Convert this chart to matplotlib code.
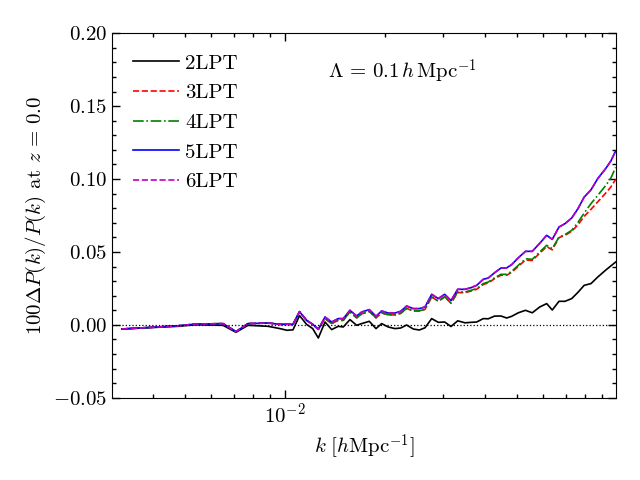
import numpy as np
import matplotlib
matplotlib.use("Agg")
import matplotlib.pyplot as plt
from matplotlib.ticker import MultipleLocator, LogLocator

plt.rcParams['font.family'] = 'serif'
plt.rcParams['font.serif'] = ['cmr10']
plt.rcParams['mathtext.fontset'] = 'cm'
plt.rcParams['axes.formatter.use_mathtext'] = True
plt.rcParams['font.size'] = 15

# k bins [h/Mpc]
k = [0.003229, 0.004762, 0.005357, 0.006504, 0.007118, 0.007737, 0.008889, 0.009659,
     0.01014, 0.01057, 0.01106, 0.01161, 0.01212, 0.01260, 0.01320, 0.01382,
     0.01447, 0.01498, 0.01569, 0.01644, 0.01702, 0.01794, 0.01880, 0.01955,
     0.02047, 0.02144, 0.02231, 0.02325, 0.02434, 0.02538, 0.02640, 0.02766,
     0.02895, 0.03027, 0.03162, 0.03313, 0.03485, 0.03640, 0.03779, 0.03956,
     0.04095, 0.04276, 0.04473, 0.04653, 0.04817, 0.05043, 0.05301, 0.05557,
     0.05850, 0.06141, 0.06384, 0.06688, 0.06972, 0.07303, 0.07629, 0.07965,
     0.08349, 0.08752, 0.09232, 0.09591, 0.09910]

# 100 * Delta P / P for each LPT order
lpt2 = [-0.00288, -0.00103, 0.0, -0.00034, -0.00514, -0.00034, -0.00103, -0.00261,
        -0.00377, -0.00343, 0.00631, 0.00034, -0.00261, -0.00905, 0.00192, -0.00329,
        -0.00103, -0.00151, 0.00357, -0.00034, 0.00082, 0.00240, -0.00261, 0.00082,
        -0.00151, -0.00261, -0.00219, -0.00014, -0.00288, -0.00357, -0.00206, 0.00425,
        0.00171, 0.00192, -0.00117, 0.00274, 0.00137, 0.00171, 0.00192, 0.00425,
        0.00412, 0.00597, 0.00604, 0.00466, 0.00583, 0.00823, 0.00995, 0.00823,
        0.01221, 0.01454, 0.01015, 0.01612, 0.01612, 0.01797, 0.02229, 0.02709,
        0.02826, 0.03278, 0.03738, 0.04047, 0.04307]

lpt3 = [-0.00288, -0.00069, 0.00048, 0.00082, -0.00466, 0.00082, 0.00123, 0.00034,
        0.00034, 0.00034, 0.00905, 0.00309, 0.00034, -0.00309, 0.00430, 0.00085,
        0.00305, 0.00305, 0.00885, 0.00475, 0.00748, 0.00920, 0.00474, 0.00816,
        0.00680, 0.00680, 0.00782, 0.01125, 0.00952, 0.00952, 0.01055, 0.01910,
        0.01616, 0.01910, 0.01485, 0.02213, 0.02200, 0.02323, 0.02440, 0.02766,
        0.02876, 0.03164, 0.03400, 0.03400, 0.03605, 0.04011, 0.04447, 0.04412,
        0.04913, 0.05363, 0.05146, 0.05981, 0.06139, 0.06413, 0.06859, 0.07442,
        0.07922, 0.08436, 0.09019, 0.09465, 0.09979]

lpt4 = [-0.00288, -0.00069, 0.00048, 0.00082, -0.00466, 0.00082, 0.00123, 0.00034,
        0.00034, 0.00034, 0.00905, 0.00309, 0.00034, -0.00309, 0.00432, 0.00089,
        0.00309, 0.00309, 0.00892, 0.00480, 0.00754, 0.00926, 0.00480, 0.00823,
        0.00686, 0.00686, 0.00789, 0.01132, 0.00960, 0.00960, 0.01063, 0.01920,
        0.01626, 0.01920, 0.01495, 0.02263, 0.02250, 0.02373, 0.02490, 0.02826,
        0.02936, 0.03224, 0.03464, 0.03464, 0.03669, 0.04081, 0.04527, 0.04492,
        0.04993, 0.05453, 0.05226, 0.06022, 0.06187, 0.06481, 0.07030, 0.07668,
        0.08313, 0.08882, 0.09534, 0.10082, 0.10802]

lpt5 = [-0.00288, -0.00069, 0.00048, 0.00082, -0.00466, 0.00082, 0.00123, 0.00034,
        0.00034, 0.00034, 0.00905, 0.00309, 0.00034, -0.00309, 0.00535, 0.00192,
        0.00425, 0.00425, 0.00995, 0.00604, 0.00878, 0.01043, 0.00583, 0.00947,
        0.00809, 0.00809, 0.00926, 0.01289, 0.01111, 0.01111, 0.01221, 0.02092,
        0.01797, 0.02092, 0.01660, 0.02435, 0.02435, 0.02551, 0.02709, 0.03121,
        0.03210, 0.03567, 0.03896, 0.03909, 0.04129, 0.04595, 0.05041, 0.05041,
        0.05590, 0.06139, 0.05864, 0.06708, 0.06941, 0.07325, 0.07970, 0.08765,
        0.09259, 0.10034, 0.10700, 0.11248, 0.11934]

lpt6 = [-0.00288, -0.00069, 0.00048, 0.00082, -0.00466, 0.00082, 0.00123, 0.00034,
        0.00034, 0.00034, 0.00905, 0.00309, 0.00034, -0.00309, 0.00535, 0.00192,
        0.00425, 0.00425, 0.00995, 0.00604, 0.00878, 0.01043, 0.00583, 0.00947,
        0.00809, 0.00809, 0.00926, 0.01289, 0.01111, 0.01111, 0.01221, 0.02092,
        0.01797, 0.02092, 0.01660, 0.02435, 0.02435, 0.02551, 0.02709, 0.03121,
        0.03210, 0.03567, 0.03896, 0.03909, 0.04129, 0.04595, 0.05041, 0.05041,
        0.05590, 0.06139, 0.05864, 0.06708, 0.06941, 0.07325, 0.07970, 0.08765,
        0.09259, 0.10034, 0.10700, 0.11248, 0.11934]

fig = plt.figure(figsize=(6.4, 4.8), dpi=100)
ax = fig.add_axes([0.1755, 0.1715, 0.7865, 0.7591])

lw = 1.2
ax.plot(k, lpt2, color='k', ls='-', lw=lw, label='2LPT')
ax.plot(k, lpt3, color='r', ls='--', lw=lw, label='3LPT')
ax.plot(k, lpt4, color='g', ls='-.', lw=lw, label='4LPT')
ax.plot(k, lpt5, color='b', ls='-', lw=lw, label='5LPT')
ax.plot(k, lpt6, color='m', ls='--', lw=lw, label='6LPT')
ax.axhline(0.0, color='k', ls=':', lw=0.9)

ax.set_xscale('log')
ax.set_xlim(0.003019, 0.0991)
ax.set_ylim(-0.05, 0.20)
ax.yaxis.set_major_locator(MultipleLocator(0.05))
ax.yaxis.set_minor_locator(MultipleLocator(0.01))
ax.tick_params(which='both', direction='in', top=True, right=True, labelsize=15)
ax.tick_params(which='major', length=6, width=1)
ax.tick_params(which='minor', length=3, width=1)

ax.set_xlabel(r'$k\ [h{\rm Mpc}^{-1}]$', fontsize=15)
ax.set_ylabel(r'$100\Delta P(k)/P(k)$ at $z\,=\,0.0$', fontsize=15)

ax.text(0.5755, 0.894, r'$\Lambda\,=\,0.1\,h\,{\rm Mpc}^{-1}$', transform=ax.transAxes,
        ha='center', va='center', fontsize=15)

ax.legend(loc='upper left', frameon=False, fontsize=15, handlelength=2.2,
          handletextpad=0.3, labelspacing=0.53, borderaxespad=0.6)

fig.savefig('out.png', dpi=100)
